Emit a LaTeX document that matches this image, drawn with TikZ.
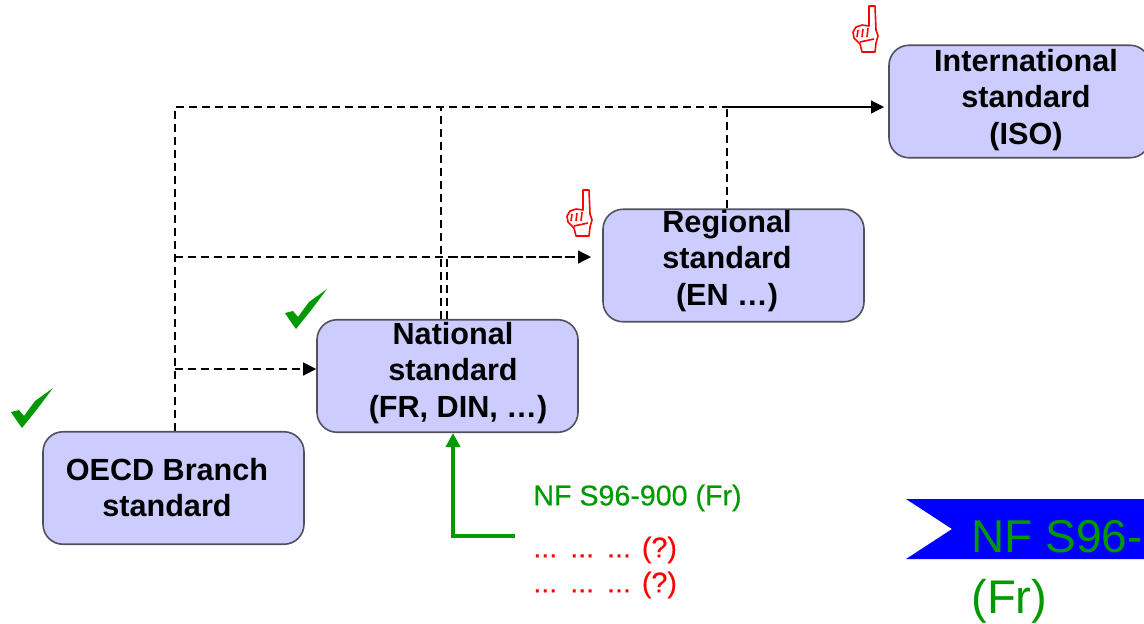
\documentclass[tikz,border=0pt]{standalone}
\usepackage{fontspec}
\setmainfont{Liberation Sans}
\newfontfamily\notefont[FakeBold=0.4]{Liberation Sans}
\usetikzlibrary{arrows.meta}
\definecolor{boxblue}{HTML}{CCCCFF}
\definecolor{boxedge}{HTML}{505060}
\definecolor{tickgreen}{HTML}{009900}
\tikzset{
  stdbox/.style={draw=boxedge,line width=0.8pt,fill=boxblue,rounded corners=10pt,
    minimum width=130.5pt,minimum height=56.25pt,inner sep=0pt},
  boxtext/.style={font=\fontsize{15.3}{18.25}\selectfont\bfseries,align=center,inner sep=0pt},
  dashline/.style={line width=0.6pt,dash pattern=on 4pt off 2.5pt},
  tip/.style={-{Triangle[length=6.5pt,width=6.5pt]}},
  noteline/.style={font=\notefont\fontsize{14.3}{17}\selectfont,anchor=west,inner sep=0pt},
  bannerline/.style={font=\fontsize{23.6}{24}\selectfont,text=tickgreen,anchor=west,inner sep=0pt}
}
\begin{document}
\begin{tikzpicture}[x=0.5pt,y=-0.5pt]
\useasboundingbox (0,0) rectangle (1144,623);
\clip (0,0) rectangle (1144,623);
% boxes
\node[stdbox] (oecd) at (173.5,488) {};
\node[stdbox] (national) at (447.5,376) {};
\node[stdbox] (regional) at (733.5,265.5) {};
\node[stdbox] (iso) at (1019.5,101.5) {};
% junctions
\coordinate (topleft) at (175,107);
\coordinate (topmid) at (441,107);
\coordinate (topright) at (727,107);
\coordinate (midleft) at (175,257);
\coordinate (midnat) at (447,257);
\coordinate (midend) at (591,257);
\coordinate (lowleft) at (175,369);
\coordinate (isoend) at (884,107);
\coordinate (greenup) at (453,536);
\coordinate (greenend) at (515,536);
% connectors
\draw[dashline] (oecd.north -| topleft) -- (topleft) -- (topright);
\draw[dashline] (national.north -| topmid) -- (topmid);
\draw[dashline] (regional.north -| topright) -- (topright);
\draw[line width=0.6pt,tip] (topright) -- (isoend);
\draw[dashline,tip] (midleft) -- (midend);
\draw[dashline] (national.north -| midnat) -- (midnat) -- (midend);
\draw[dashline,tip] (lowleft) -- (lowleft -| national.west);
\draw[tickgreen,line width=1.9pt,{Triangle[length=7pt,width=7pt]}-] (national.south -| greenup) -- (greenup) -- (greenend);
% box texts
\node[boxtext] (oecdtext) at (167,487.5) {OECD Branch\\standard};
\node[boxtext] (nationaltext) at (453,373) {National\\standard\\\hspace*{5pt}(FR, DIN, \dots)};
\node[boxtext] (regionaltext) at (727,261) {Regional\\standard\\(EN \dots)};
\node[boxtext] (isotext) at (1026,100) {International\\standard\\(ISO)};
% ticks and hands
\foreach \dx/\dy in {0/0,274/-99}
  \fill[tickgreen,shift={(\dx,\dy)}] (11,412) -- (19,410) -- (24,416) -- (35,401) -- (53,388) -- (38,408) -- (22,428) -- (17,421) -- cycle;
\foreach \hx/\hy in {853/5,567/189}
  \draw[red,line width=0.8pt,line join=round,shift={(\hx,\hy)}]
    (16,21) -- (16,1) -- (22,1) -- (23,25) -- (25,31) -- (23,38) -- (22,47) -- (9,47) -- (7,39) -- (1,33) -- (0,27) -- (3,22) -- (9,20) -- cycle
    (5,25) -- (4,32) (10,24) -- (9,32) (15,23) -- (14,32) (7,37) -- (21,34);
% standards
\node[noteline,text=tickgreen] (nfnote) at (533,498) {NF S96-900 (Fr)};
\node[noteline,text=red] (redone) at (533,550) {...\hspace{6.5pt}...\hspace{6.5pt}...\hspace{5.5pt}(?)};
\node[noteline,text=red] (redtwo) at (533,585) {...\hspace{6.5pt}...\hspace{6.5pt}...\hspace{5.5pt}(?)};
% banner
\fill[blue] (906,499) -- (1144,499) -- (1144,559) -- (906,559) -- (952,529) -- cycle;
\node[bannerline,font=\fontsize{23}{24}\selectfont] (bannertext) at (971,537) {NF S96-};
\node[bannerline] (bannerfr) at (971,601) {(Fr)};
\end{tikzpicture}
\end{document}
